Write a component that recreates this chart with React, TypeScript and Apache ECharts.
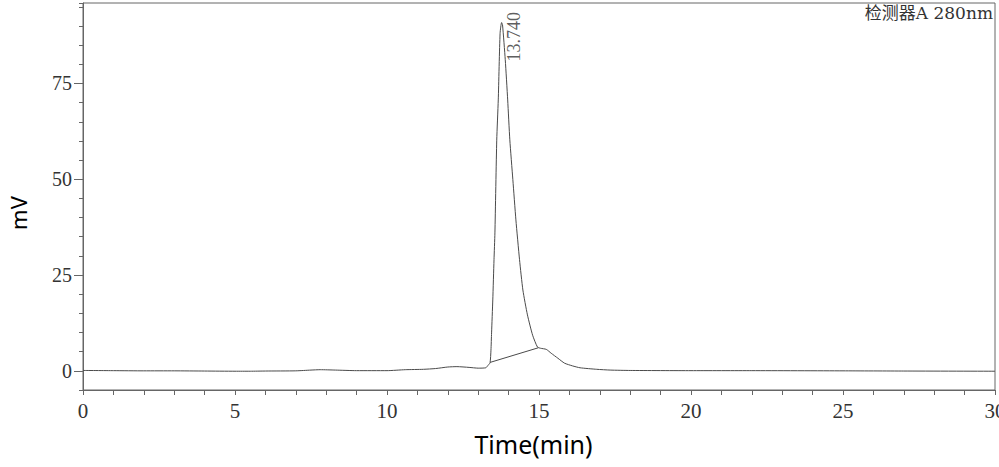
import React, { useEffect, useRef } from "react";
import * as echarts from "echarts";

const timeMin: number[] = [
  0, 1, 2, 3, 4, 5, 5.5, 6, 7, 7.5, 7.8, 8.3, 9, 10, 10.6, 11.2, 11.6, 12.0, 12.3, 12.7, 13.0, 13.25, 13.33,
  13.39, 13.42, 13.44, 13.48, 13.52, 13.55, 13.61, 13.66, 13.72, 13.77, 13.8, 13.89, 13.97, 14.04,
  14.14, 14.24, 14.36, 14.47, 14.62, 14.79, 14.95, 15.05, 15.24, 15.4, 15.62, 15.84, 16.1, 16.35,
  16.9, 17.34, 18, 20, 22, 25, 27, 30,
];
const signalMv: number[] = [
  0.1, 0.05, 0.0, 0.0, -0.05, -0.1, -0.1, -0.05, 0.0, 0.2, 0.3, 0.2, 0.05, 0.05, 0.3, 0.4, 0.6, 1.0, 1.1, 0.9, 0.7, 0.8, 1.5,
  2.1, 5.4, 9.9, 18.5, 29, 36, 60.2, 70.7, 88.1, 90.9, 90.3, 81.2, 70.7, 60.3,
  49.9, 39.4, 29, 21.1, 14.6, 9.3, 6.2, 5.9, 5.6, 4.6, 3.3, 2.0, 1.3, 0.8,
  0.4, 0.2, 0.1, 0.05, 0.05, 0.0, -0.05, -0.1,
];
const baselineTime: number[] = [13.39, 14.97];
const baselineMv: number[] = [2.2, 6.0];
const peakTime = 13.77;
const peakMv = 90.9;
const peakLabel = "13.740";
const yMajorTicks: number[] = [0, 25, 50, 75];
const xLabelEvery = 5;
const detectorLabel = "检测器A 280nm";

export default function App() {
  const ref = useRef<HTMLDivElement>(null);
  useEffect(() => {
    if (!ref.current) return;
    const chart = echarts.init(ref.current, undefined, { renderer: "svg" });
    const lineColor = "#4a4a4a";
    const axisColor = "#666";
    const labelColor = "#333";
    const serif = "'Liberation Serif', 'DejaVu Serif', serif";
    chart.setOption({
      animation: false,
      backgroundColor: "#fff",
      grid: {
        left: 83,
        right: 4,
        top: 3,
        bottom: 77,
        show: true,
        borderColor: axisColor,
        borderWidth: 1,
        containLabel: false,
        outerBoundsMode: "none",
      },
      xAxis: {
        type: "value",
        min: 0,
        max: 30,
        interval: 1,
        axisLine: { show: true, onZero: false, lineStyle: { color: axisColor, width: 1 } },
        axisTick: { show: true, length: 5, lineStyle: { color: axisColor } },
        splitLine: { show: false },
        axisLabel: {
          interval: 0,
          margin: 10,
          color: labelColor,
          fontFamily: serif,
          fontSize: 21,
          formatter: (v: number) => (Math.round(v) % xLabelEvery === 0 ? String(Math.round(v)) : ""),
        },
        name: "Time(min)",
        nameLocation: "middle",
        nameGap: 41,
        nameTextStyle: {
          fontFamily: "'Noto Sans', sans-serif",
          fontSize: 25,
          color: "#000",
          padding: [0, 11, 0, 0],
        },
      },
      yAxis: [
        {
          type: "value",
          min: -5,
          max: 96,
          interval: 5,
          axisLine: { show: true, onZero: false, lineStyle: { color: axisColor, width: 1 } },
          axisTick: { show: true, length: 4, lineStyle: { color: axisColor } },
          axisLabel: { show: false },
          splitLine: { show: false },
        },
        {
          type: "value",
          min: -5,
          max: 96,
          position: "left",
          axisLine: { show: false },
          axisTick: { show: true, length: 9, customValues: yMajorTicks, lineStyle: { color: axisColor } },
          axisLabel: {
            show: true,
            customValues: yMajorTicks,
            margin: 11,
            color: labelColor,
            fontFamily: serif,
            fontSize: 20,
          },
          splitLine: { show: false },
        },
      ],
      series: [
        {
          type: "line",
          data: timeMin.map((t, i) => [t, signalMv[i]]),
          showSymbol: false,
          symbol: "none",
          smooth: 0.2,
          lineStyle: { color: lineColor, width: 1 },
          silent: true,
        },
        {
          type: "line",
          data: baselineTime.map((t, i) => [t, baselineMv[i]]),
          showSymbol: false,
          symbol: "none",
          lineStyle: { color: lineColor, width: 1 },
          silent: true,
        },
        {
          type: "scatter",
          data: [[peakTime, peakMv]],
          symbolSize: 0,
          silent: true,
          label: {
            show: true,
            formatter: peakLabel,
            position: "inside",
            align: "left",
            verticalAlign: "middle",
            rotate: 90,
            offset: [-39, 12],
            color: labelColor,
            fontFamily: serif,
            fontSize: 18,
          },
        },
      ],
      graphic: [
        {
          type: "text",
          right: 6,
          top: 4,
          style: {
            text: detectorLabel,
            fill: labelColor,
            font: "17px 'DejaVu Serif', 'Noto Sans CJK SC', serif",
          },
        },
        {
          type: "text",
          x: 17.5,
          y: 213,
          rotation: Math.PI / 2,
          style: {
            text: "mV",
            fill: "#000",
            font: "22px 'Noto Sans', sans-serif",
            align: "center",
            verticalAlign: "middle",
          },
        },
      ],
    });
    return () => chart.dispose();
  }, []);
  return <div ref={ref} style={{ position: "fixed", left: 0, top: 0, width: 999, height: 467 }} />;
}
